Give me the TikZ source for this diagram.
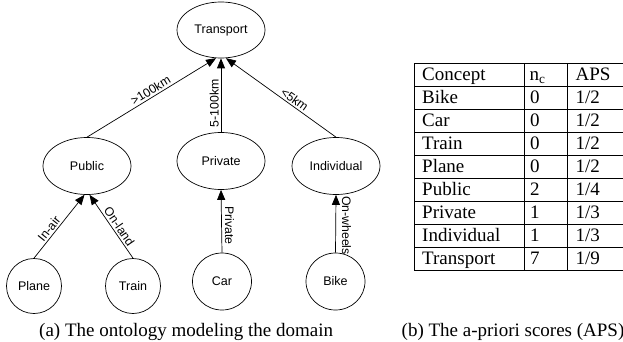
\documentclass[tikz,border=0pt]{standalone}
\usepackage{fontspec}
\setmainfont{Liberation Serif}
\newfontfamily\arialf{Liberation Sans}
\usetikzlibrary{arrows.meta,shapes.geometric}
\begin{document}
\begin{tikzpicture}[x=1pt,y=-1pt,
  concept/.style={ellipse,draw,line width=0.7pt,inner sep=0pt,
    font=\arialf\fontsize{12.5}{14}\selectfont},
  rel/.style={draw,line width=0.7pt,-{Triangle[length=10pt,width=8pt]}},
  lbl/.style={font=\arialf\fontsize{12.3}{14}\selectfont,inner sep=1.8pt},
  tbl/.style={draw,line width=0.8pt},
  cell/.style={anchor=base west,inner sep=0pt,font=\fontsize{19}{22}\selectfont},
  captext/.style={anchor=base west,inner sep=0pt,font=\fontsize{19}{22}\selectfont}]
\useasboundingbox (0,0) rectangle (623,342);
% ontology nodes
\node[concept,minimum width=88pt,minimum height=56pt] (tr) at (221,30) {Transport};
\node[concept,minimum width=88pt,minimum height=57pt] (pub) at (87,166) {Public};
\node[concept,minimum width=88pt,minimum height=57pt] (priv) at (221,161) {Private};
\node[concept,minimum width=88pt,minimum height=57pt] (ind) at (336,166) {Individual};
\node[concept,minimum width=55pt,minimum height=55pt] (plane) at (34,286) {Plane};
\node[concept,minimum width=55pt,minimum height=55pt] (train) at (133,286) {Train};
\node[concept,minimum width=59pt,minimum height=57pt] (car) at (222,281.5) {Car};
\node[concept,minimum width=59pt,minimum height=57pt] (bike) at (335.5,281.5) {Bike};
% relations
\draw[rel] (pub.north) -- node[lbl,sloped,above,pos=0.52]{>100km} (tr.-100);
\draw[rel] (priv.north) -- node[lbl,rotate=90,anchor=south,pos=0.39]{5-100km} (tr.south);
\draw[rel] (ind.north) -- node[lbl,sloped,above,pos=0.41]{<5km} (tr.-80);
\draw[rel] (plane.north) -- node[lbl,sloped,above,pos=0.40]{In-air} (pub.-95);
\draw[rel] (train.north) -- node[lbl,sloped,above,pos=0.44]{On-land} (pub.-85);
\draw[rel] (car.north) -- node[lbl,rotate=-90,anchor=south,pos=0.43,inner sep=3pt]{Private} (priv.south);
\draw[rel] (bike.north) -- node[lbl,rotate=-90,anchor=south,pos=0.47,inner sep=6pt]{On-wheels} (ind.south);
% table
\foreach \i in {0,...,9} \draw[tbl] (414,{63.5+\i*22.95}) -- (640,{63.5+\i*22.95});
\foreach \x in {414,524,567} \draw[tbl] (\x,63.5) -- (\x,270.05);
\node[cell] (h0) at (422,81) {Concept};
\node[cell] (h1) at (529.5,81) {n\textsubscript{c}};
\node[cell] (h2) at (575.5,81) {APS};
\foreach \a/\b/\c/\d [count=\i] in {Bike/0/1/2,Car/0/1/2,Train/0/1/2,Plane/0/1/2,Public/2/1/4,Private/1/1/3,Individual/1/1/3,Transport/7/1/9}{
  \node[cell] (r\i a) at (422,{81+\i*22.95}) {\a};
  \node[cell] (r\i b) at (530,{81+\i*22.95}) {\b};
  \node[cell] (r\i c) at (575.5,{81+\i*22.95}) {\c/\d};
}
% captions
\node[captext] (capa) at (39,336) {(a) The ontology modeling the domain};
\node[captext] (capb) at (401.5,336) {(b) The a-priori scores (APS)};
\end{tikzpicture}
\end{document}
